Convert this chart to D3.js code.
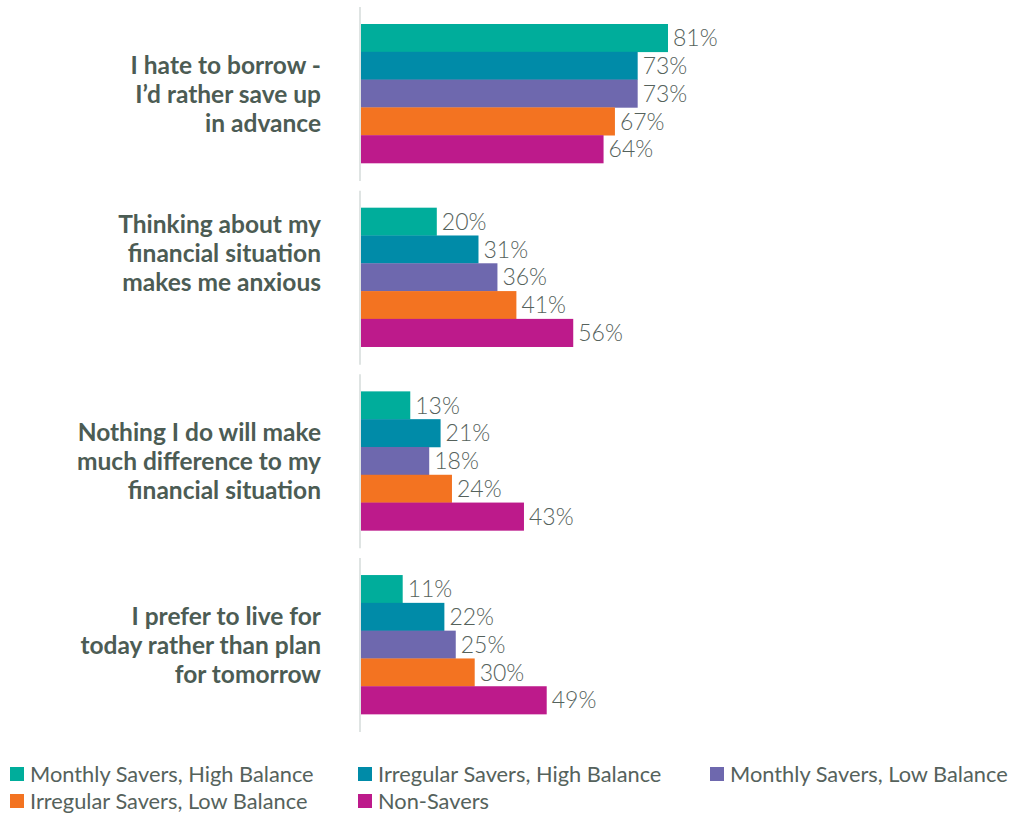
<!DOCTYPE html>
<html><head><meta charset="utf-8">
<script src="https://cdnjs.cloudflare.com/ajax/libs/d3/7.8.5/d3.min.js"></script>
<style>body{margin:0;background:#fff;}svg{display:block;font-family:Lato,"Open Sans",sans-serif;}</style>
</head><body><svg id="c" width="1015" height="815"></svg>
<script>
const categories = [
  ["I hate to borrow -", "I\u2019d rather save up", "in advance"],
  ["Thinking about my", "financial situation", "makes me anxious"],
  ["Nothing I do will make", "much difference to my", "financial situation"],
  ["I prefer to live for", "today rather than plan", "for tomorrow"]
];
const seriesNames = ["Monthly Savers, High Balance", "Irregular Savers, High Balance", "Monthly Savers, Low Balance", "Irregular Savers, Low Balance", "Non-Savers"];
const monthlyHigh = [81, 20, 13, 11];
const irregularHigh = [73, 31, 21, 22];
const monthlyLow = [73, 36, 18, 25];
const irregularLow = [67, 41, 24, 30];
const nonSavers = [64, 56, 43, 49];
const colors = ["#00ad9b", "#008ba8", "#6e68ae", "#f37321", "#bd1a8b"];

const seriesValues = [monthlyHigh, irregularHigh, monthlyLow, irregularLow, nonSavers];
const svg = d3.select("#c");
const x = d3.scaleLinear().domain([0, 100]).range([361, 740]);
const catIdx = d3.range(categories.length);
const y0 = d3.scaleBand().domain(catIdx).range([7, 732]).paddingInner(0.053).paddingOuter(0);
const bw = y0.bandwidth();
const y1 = d3.scaleBand().domain(d3.range(seriesNames.length)).range([17, 156]);
const labelShift = [0, -24, 0, 0];

// axis segments
catIdx.forEach(i => {
  svg.append("line").attr("x1", 360).attr("x2", 360)
    .attr("y1", y0(i)).attr("y2", y0(i) + bw)
    .attr("stroke", "#dfe4e3").attr("stroke-width", 2);
});

const g = svg.selectAll("g.cat").data(catIdx).join("g")
  .attr("transform", i => `translate(0,${y0(i)})`);

g.each(function(i) {
  const gg = d3.select(this);
  seriesValues.forEach((vals, s) => {
    gg.append("rect").attr("x", x(0)).attr("y", y1(s))
      .attr("width", x(vals[i]) - x(0)).attr("height", y1.bandwidth() + 0.3)
      .attr("fill", colors[s]);
    gg.append("text").attr("x", x(vals[i]) + 5).attr("y", y1(s) + y1.bandwidth() / 2)
      .attr("dy", "0.36em").attr("font-size", 23).attr("font-weight", 300)
      .attr("fill", "#55625c").text(vals[i] + "%");
  });
  const lines = categories[i];
  const lh = 29;
  const cy = bw / 2 + labelShift[i];
  lines.forEach((t, k) => {
    gg.append("text").attr("x", 321).attr("y", cy + (k - (lines.length - 1) / 2) * lh)
      .attr("dy", "0.36em").attr("text-anchor", "end")
      .attr("font-size", 24.5).attr("font-weight", 700).attr("fill", "#4c5c54").text(t);
  });
});

// legend
const legPos = [[10, 774], [358, 774], [710, 774], [10, 801], [358, 801]];
seriesNames.forEach((n, s) => {
  const [lx, ly] = legPos[s];
  svg.append("rect").attr("x", lx).attr("y", ly - 7).attr("width", 14).attr("height", 14).attr("fill", colors[s]);
  svg.append("text").attr("x", lx + 20).attr("y", ly).attr("dy", "0.36em")
    .attr("font-size", 21.8).attr("fill", "#55625c").text(n);
});
</script></body></html>
